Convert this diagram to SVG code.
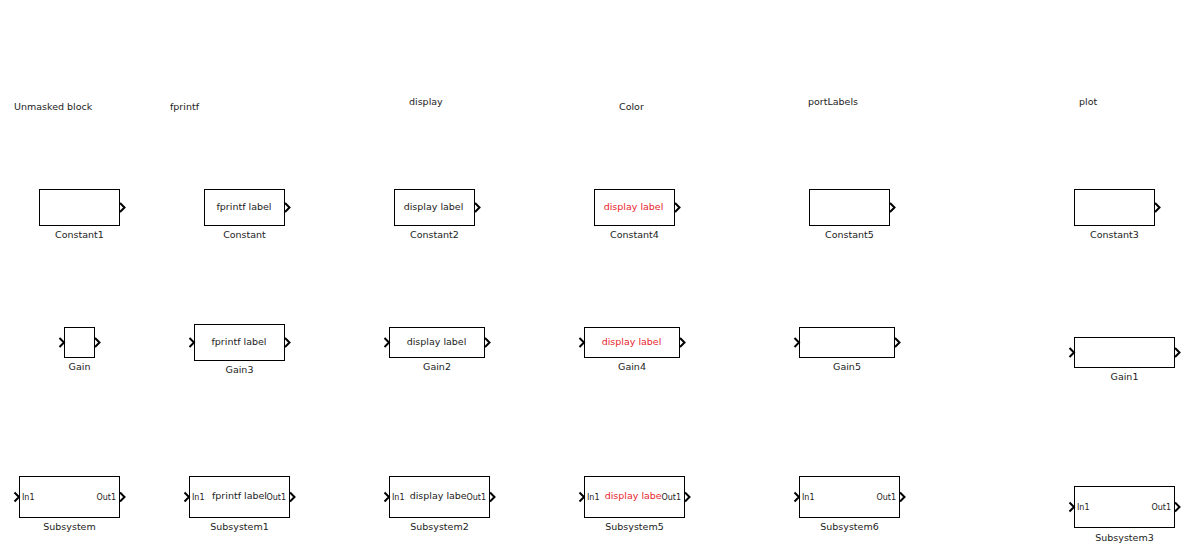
<svg xmlns="http://www.w3.org/2000/svg" width="1184" height="553" viewBox="0 0 1184 553">
  <defs>
    <!-- port chevron, tip at (4.5,0) -->
    <path id="port" d="M0,-4.5 L4.5,0 L0,4.5" fill="none" stroke="#000" stroke-width="2"/>
  </defs>
  <style>
    text { font-family: "DejaVu Sans", "Liberation Sans", sans-serif; font-size: 9.5px; fill: #222; }
    .c { text-anchor: middle; }
    .red { fill: #e8262d; }
    .pl { font-size: 8px; }
    .r { text-anchor: end; }
    rect.blk { fill: #fff; stroke: #000; stroke-width: 1; }
    rect.bg { fill: #fff; }
  </style>
  <rect width="1184" height="553" fill="#fff"/>

  <!-- column headings -->
  <g id="headings">
    <text x="14" y="110">Unmasked block</text>
    <text x="170" y="110">fprintf</text>
    <text x="409" y="105">display</text>
    <text x="619" y="110">Color</text>
    <text x="808" y="105">portLabels</text>
    <text x="1079" y="105">plot</text>
  </g>

  <g id="connectors"/>

  <!-- Constant row -->
  <g id="Constant1">
    <rect class="blk" x="39.5" y="189.5" width="80" height="36"/>
    <use href="#port" x="120" y="207.5"/>
    <text class="c" x="79.5" y="238">Constant1</text>
  </g>
  <g id="Constant">
    <rect class="blk" x="204.5" y="189.5" width="80" height="36"/>
    <use href="#port" x="285" y="207.5"/>
    <text class="c" x="244" y="210">fprintf label</text>
    <text class="c" x="244.5" y="238">Constant</text>
  </g>
  <g id="Constant2">
    <rect class="blk" x="394.5" y="189.5" width="80" height="36"/>
    <use href="#port" x="475" y="207.5"/>
    <text class="c" x="433.5" y="210">display label</text>
    <text class="c" x="434.5" y="238">Constant2</text>
  </g>
  <g id="Constant4">
    <rect class="blk" x="594.5" y="189.5" width="80" height="36"/>
    <use href="#port" x="675" y="207.5"/>
    <text class="c red" x="633.5" y="210">display label</text>
    <text class="c" x="634.5" y="238">Constant4</text>
  </g>
  <g id="Constant5">
    <rect class="blk" x="809.5" y="189.5" width="80" height="36"/>
    <use href="#port" x="890" y="207.5"/>
    <text class="c" x="849.5" y="238">Constant5</text>
  </g>
  <g id="Constant3">
    <rect class="blk" x="1074.5" y="189.5" width="80" height="36"/>
    <use href="#port" x="1155" y="207.5"/>
    <text class="c" x="1114.5" y="238">Constant3</text>
  </g>

  <!-- Gain row -->
  <g id="Gain">
    <rect class="blk" x="64.5" y="327.5" width="30" height="30"/>
    <use href="#port" x="59.5" y="342.5"/>
    <use href="#port" x="95" y="342.5"/>
    <text class="c" x="79.5" y="370">Gain</text>
  </g>
  <g id="Gain3">
    <rect class="blk" x="194.5" y="324.5" width="90" height="36"/>
    <use href="#port" x="189.5" y="342.5"/>
    <use href="#port" x="285" y="342.5"/>
    <text class="c" x="239" y="345">fprintf label</text>
    <text class="c" x="239.5" y="373">Gain3</text>
  </g>
  <g id="Gain2">
    <rect class="blk" x="389.5" y="327.5" width="95" height="30"/>
    <use href="#port" x="384.5" y="342.5"/>
    <use href="#port" x="485" y="342.5"/>
    <text class="c" x="436.5" y="345">display label</text>
    <text class="c" x="437" y="370">Gain2</text>
  </g>
  <g id="Gain4">
    <rect class="blk" x="584.5" y="327.5" width="95" height="30"/>
    <use href="#port" x="579.5" y="342.5"/>
    <use href="#port" x="680" y="342.5"/>
    <text class="c red" x="631.5" y="345">display label</text>
    <text class="c" x="632" y="370">Gain4</text>
  </g>
  <g id="Gain5">
    <rect class="blk" x="799.5" y="327.5" width="95" height="30"/>
    <use href="#port" x="794.5" y="342.5"/>
    <use href="#port" x="895" y="342.5"/>
    <text class="c" x="847" y="370">Gain5</text>
  </g>
  <g id="Gain1">
    <rect class="blk" x="1074.5" y="337.5" width="100" height="30"/>
    <use href="#port" x="1069.5" y="352.5"/>
    <use href="#port" x="1175" y="352.5"/>
    <text class="c" x="1124.5" y="380">Gain1</text>
  </g>

  <!-- Subsystem row -->
  <g id="Subsystem">
    <rect class="blk" x="19.5" y="476.5" width="100" height="41"/>
    <use href="#port" x="14.5" y="497"/>
    <use href="#port" x="120" y="497"/>
    <text class="pl" x="22" y="500">In1</text>
    <text class="pl r" x="116" y="500">Out1</text>
    <text class="c" x="69.5" y="530">Subsystem</text>
  </g>
  <g id="Subsystem1">
    <rect class="blk" x="189.5" y="476.5" width="100" height="41"/>
    <use href="#port" x="184.5" y="497"/>
    <use href="#port" x="290" y="497"/>
    <text class="pl" x="192" y="500">In1</text>
    <text class="c" x="239.5" y="499">fprintf label</text>
    <text class="pl r" x="286" y="500">Out1</text>
    <text class="c" x="239.5" y="530">Subsystem1</text>
  </g>
  <g id="Subsystem2">
    <rect class="blk" x="389.5" y="476.5" width="100" height="41"/>
    <use href="#port" x="384.5" y="497"/>
    <use href="#port" x="490" y="497"/>
    <text class="pl" x="392" y="500">In1</text>
    <text class="c" x="439.5" y="499">display label</text>
    <!-- port label sits on an opaque patch over the block text -->
    <rect class="bg" x="467" y="491" width="19" height="11"/>
    <text class="pl r" x="486" y="500">Out1</text>
    <text class="c" x="439.5" y="530">Subsystem2</text>
  </g>
  <g id="Subsystem5">
    <rect class="blk" x="584.5" y="476.5" width="100" height="41"/>
    <use href="#port" x="579.5" y="497"/>
    <use href="#port" x="685" y="497"/>
    <text class="pl" x="587" y="500">In1</text>
    <text class="c red" x="634.5" y="499">display label</text>
    <rect class="bg" x="662" y="491" width="19" height="11"/>
    <text class="pl r" x="681" y="500">Out1</text>
    <text class="c" x="634.5" y="530">Subsystem5</text>
  </g>
  <g id="Subsystem6">
    <rect class="blk" x="799.5" y="476.5" width="100" height="41"/>
    <use href="#port" x="794.5" y="497"/>
    <use href="#port" x="900" y="497"/>
    <text class="pl" x="802" y="500">In1</text>
    <text class="pl r" x="896" y="500">Out1</text>
    <text class="c" x="849.5" y="530">Subsystem6</text>
  </g>
  <g id="Subsystem3">
    <rect class="blk" x="1074.5" y="486.5" width="100" height="41"/>
    <use href="#port" x="1069.5" y="507"/>
    <use href="#port" x="1175" y="507"/>
    <text class="pl" x="1077" y="510">In1</text>
    <text class="pl r" x="1171" y="510">Out1</text>
    <text class="c" x="1124.5" y="541">Subsystem3</text>
  </g>
</svg>
